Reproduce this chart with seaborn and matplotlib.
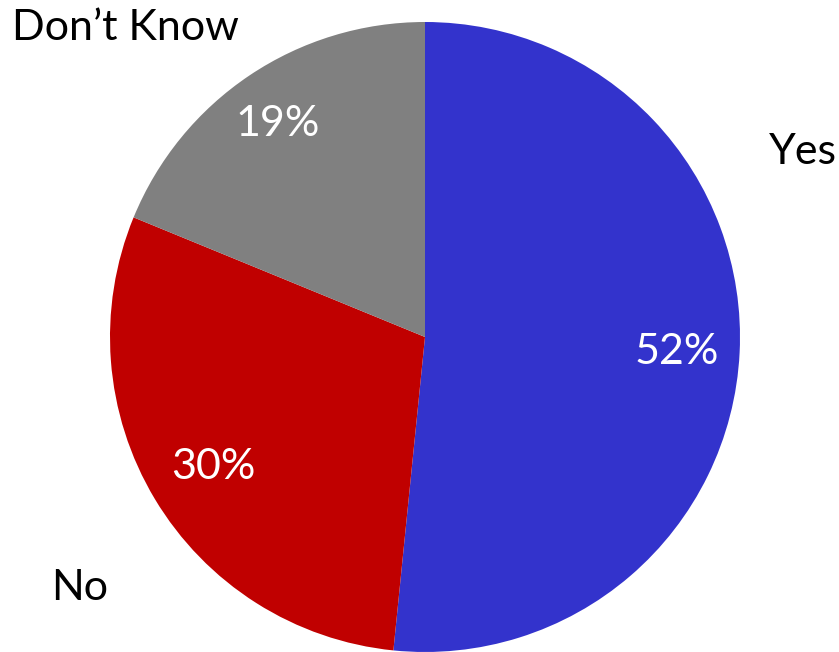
import matplotlib
matplotlib.use("Agg")
import matplotlib.pyplot as plt
import seaborn as sns

sns.set_theme(style="white")
plt.rcParams['font.family'] = ['Lato', 'DejaVu Sans']

categories = ["Yes", "No", "Don\u2019t Know"]
values = [51.6, 29.6, 18.8]
colors = ["#3333CC", "#C00000", "#808080"]

fig = plt.figure(figsize=(8.39, 6.52), dpi=100)
W, H = 839, 652
cx, cy, r = 425, 337, 315
ax = fig.add_axes([(cx - r) / W, (H - cy - r) / H, 2 * r / W, 2 * r / H])

wedges, texts, autotexts = ax.pie(
    values, colors=colors, startangle=90, counterclock=False,
    autopct="%1.0f%%", radius=1.0,
    textprops=dict(color="white", fontsize=31),
    wedgeprops=dict(linewidth=0),
)
ax.set_xlim(-1, 1)
ax.set_ylim(-1, 1)
ax.set_aspect("equal")
ax.axis("off")

pct_pos = [(677, 352), (213, 467), (278, 124)]
for t, (px, py) in zip(autotexts, pct_pos):
    t.set_position(((px - cx) / r, (cy - py) / r))
    t.set_ha("center"); t.set_va("center")

lab_pos = [(803, 152), (80, 588), (125, 28)]
for name, (px, py) in zip(categories, lab_pos):
    ax.text((px - cx) / r, (cy - py) / r, name, ha="center", va="center",
            fontsize=31, color="black", clip_on=False)

fig.savefig("out.png", dpi=100)
